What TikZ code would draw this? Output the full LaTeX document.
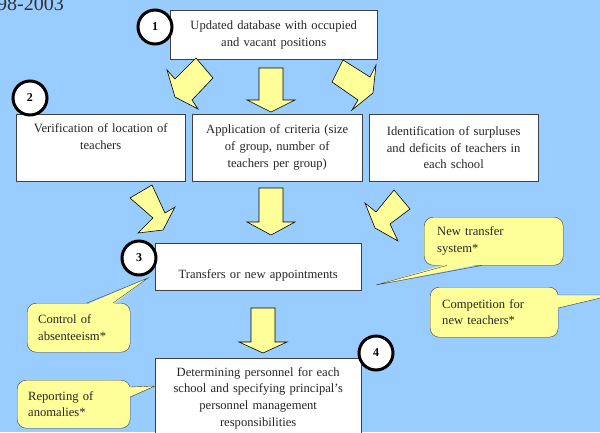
\documentclass[tikz,border=0pt]{standalone}
\usepackage{fontspec}
\setmainfont{Liberation Serif}
\usepackage{tikz}
\usetikzlibrary{calc}
\definecolor{bgBlue}{HTML}{99CCFF}
\definecolor{noteYellow}{HTML}{FFFF99}
\definecolor{lineGray}{HTML}{404040}
\newcommand{\boxfont}{\fontsize{12.6}{16.8}\selectfont}

\begin{document}
\begin{tikzpicture}[
  x=1pt, y=-1pt,
  box/.style={draw=lineGray, fill=white, align=center, font=\boxfont, anchor=north west, inner xsep=3pt, text=black!85},
  num/.style={circle, draw, line width=3pt, fill=white, minimum size=34pt, inner sep=0pt, font=\fontsize{12}{14}\selectfont\bfseries},
  note/.style={draw=lineGray, fill=noteYellow, rounded corners=9pt, align=left, anchor=north west, font=\boxfont, text=black!85},
  blockarrow/.style={draw=black, fill=noteYellow, line width=0.6pt, line join=miter}
]
\useasboundingbox (0,0) rectangle (600,432);
\clip (0,0) rectangle (600,432);
\fill[bgBlue] (0,0) rectangle (600,432);
\node[anchor=base west, inner sep=0pt, font=\fontsize{20}{24}\selectfont, text=black!80] (title) at (-3,10) {98-2003};

% boxes
\node[box, text width=201pt, minimum height=49pt] (db) at (170,10) {Updated database with occupied\\and vacant positions};
\node[box, text width=163pt, minimum height=67pt] (verif) at (16,114) {Verification of location of\\teachers\\\strut};
\node[box, text width=164pt, minimum height=67pt] (crit) at (192,114) {Application of criteria (size\\of group, number of\\teachers per group)};
\node[box, text width=163pt, minimum height=67pt] (ident) at (369,114) {Identification of surpluses\\and deficits of teachers in\\each school};
\node[box, text width=200pt, minimum height=47pt, text height=26pt, text depth=2pt] (transfer) at (155,243) {Transfers or new appointments};
\node[box, text width=200pt, minimum height=80pt] (staff) at (155,358) {Determining personnel for each\\school and specifying principal's\\personnel management\\responsibilities};

% numbers
\node[num] (n1) at (155,27) {1};
\node[num] (n2) at (30,98) {2};
\node[num] (n3) at (139,258) {3};
\node[num] (n4) at (376,353) {4};

% block arrows
\draw[blockarrow] (196,58) -- (213,78) -- (192,100) -- (198,109) -- (175,97) -- (167,70) -- (175,79) -- cycle;
\draw[blockarrow] (343,60) -- (370,77) -- (376,65) -- (373,93) -- (352,110) -- (358,100) -- (332,82) -- cycle;
\draw[blockarrow] (130,198) -- (152,185) -- (165,213) -- (175,207) -- (163,230) -- (138,233) -- (153,218) -- cycle;
\draw[blockarrow] (394,190) -- (410,209) -- (390,224) -- (398,241) -- (375,228) -- (365,203) -- (376,212) -- cycle;
\foreach \cx/\ytop/\ybase/\ytip in {271/68/100/112, 271/188/222/235, 263/308/342/353}
  \draw[blockarrow] (\cx-12,\ytop) -- (\cx+12,\ytop) -- (\cx+12,\ybase) -- (\cx+24,\ybase)
    -- (\cx,\ytip) -- (\cx-24,\ybase) -- (\cx-12,\ybase) -- cycle;

% callouts
\node[note, text width=113pt, inner xsep=13pt, minimum height=48pt] (newsys) at (424,217) {New transfer\\system*};
\node[note, text width=104pt, inner xsep=12pt, minimum height=50pt] (comp) at (430,287) {Competition for\\new teachers*};
\node[note, text width=81pt, inner xsep=11pt, minimum height=49pt] (ctrl) at (27,303) {Control of\\absenteeism*};
\node[note, text width=91pt, inner xsep=11pt, minimum height=48pt] (report) at (17,380) {Reporting of\\anomalies*};

\coordinate (newsystip) at (376,285);
\coordinate (comptip) at (613,295);
\coordinate (ctrltip) at (148,278);
\coordinate (reporttip) at (155,386);

\fill[noteYellow] ([xshift=23pt,yshift=1.5pt]newsys.south west) -- (newsystip) -- ([xshift=58pt,yshift=1.5pt]newsys.south west) -- cycle;
\draw[lineGray] ([xshift=23pt]newsys.south west) -- (newsystip) -- ([xshift=58pt]newsys.south west);
\fill[noteYellow] ([xshift=-1.5pt,yshift=-8pt]comp.north east) -- (comptip) -- ([xshift=-1.5pt,yshift=-21pt]comp.north east) -- cycle;
\draw[lineGray] ([yshift=-8pt]comp.north east) -- (comptip) -- ([yshift=-21pt]comp.north east);
\fill[noteYellow] ([xshift=60pt,yshift=-1.5pt]ctrl.north west) -- (ctrltip) -- ([xshift=86pt,yshift=-1.5pt]ctrl.north west) -- cycle;
\draw[lineGray] ([xshift=60pt]ctrl.north west) -- (ctrltip) -- ([xshift=86pt]ctrl.north west);
\fill[noteYellow] ([xshift=-1.5pt,yshift=-7pt]report.north east) -- (reporttip) -- ([xshift=-1.5pt,yshift=-17pt]report.north east) -- cycle;
\draw[lineGray] ([yshift=-7pt]report.north east) -- (reporttip) -- ([yshift=-17pt]report.north east);
\end{tikzpicture}
\end{document}
